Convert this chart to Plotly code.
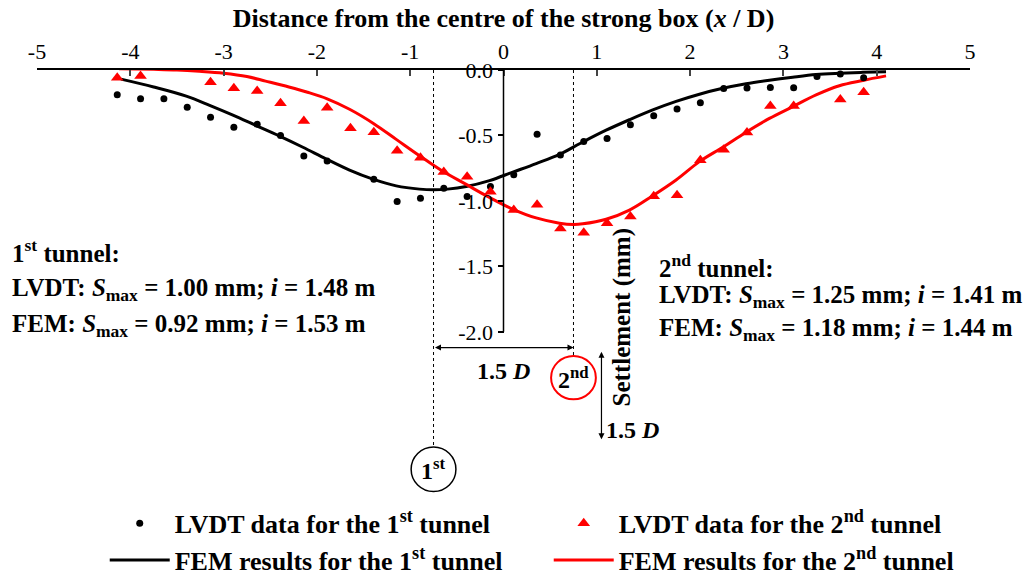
import plotly.graph_objects as go

# ---------------- data ----------------
lvdt1_x = [-4.14, -3.89, -3.64, -3.39, -3.14, -2.89, -2.64, -2.39, -2.14, -1.89,
           -1.39, -1.14, -0.89, -0.64, -0.39, -0.14, 0.11, 0.36, 0.61, 0.86,
           1.11, 1.36, 1.61, 1.86, 2.11, 2.36, 2.61, 2.86, 3.11, 3.36, 3.61, 3.86]
lvdt1_y = [-0.19, -0.22, -0.22, -0.285, -0.36, -0.437, -0.415, -0.50, -0.656, -0.695,
           -0.834, -1.005, -0.98, -0.903, -0.967, -0.89, -0.80, -0.49, -0.649, -0.547,
           -0.523, -0.418, -0.35, -0.298, -0.251, -0.141, -0.138, -0.133, -0.135, -0.05, -0.03, -0.06]

lvdt2_x = [-4.14, -3.89, -3.14, -2.89, -2.64, -2.39, -2.14, -1.89, -1.64, -1.39,
           -1.14, -0.89, -0.64, -0.39, -0.14, 0.11, 0.36, 0.61, 0.86, 1.11,
           1.36, 1.61, 1.86, 2.11, 2.36, 2.61, 2.86, 3.11, 3.61, 3.86]
lvdt2_y = [-0.059, -0.046, -0.094, -0.14, -0.16, -0.254, -0.39, -0.288, -0.445, -0.476,
           -0.616, -0.67, -0.78, -0.815, -0.93, -1.07, -1.03, -1.21, -1.244, -1.17,
           -1.12, -0.965, -0.957, -0.69, -0.61, -0.478, -0.275, -0.275, -0.225, -0.17]

fem1_x = [-4.1, -3.75, -3.4, -3.15, -2.9, -2.65, -2.4, -2.15, -1.9, -1.65, -1.4,
          -1.15, -0.9, -0.75, -0.6, -0.4, -0.15, 0.1, 0.35, 0.6, 0.85, 1.1, 1.35,
          1.6, 1.85, 2.1, 2.35, 2.6, 2.85, 3.1, 3.35, 3.6, 3.85, 4.1]
fem1_y = [-0.07, -0.13, -0.20, -0.27, -0.345, -0.425, -0.505, -0.59, -0.68, -0.765, -0.834,
          -0.885, -0.91, -0.915, -0.91, -0.89, -0.845, -0.78, -0.715, -0.645, -0.55, -0.46, -0.38,
          -0.305, -0.24, -0.185, -0.14, -0.105, -0.078, -0.055, -0.035, -0.025, -0.018, -0.013]

fem2_x = [-4.12, -3.75, -3.5, -3.26, -3.0, -2.75, -2.55, -2.3, -2.1, -1.89, -1.65,
          -1.39, -1.15, -0.89, -0.66, -0.41, -0.16, 0.09, 0.35, 0.6, 0.75, 0.85,
          1.1, 1.35, 1.6, 1.85, 2.1, 2.35, 2.6, 2.85, 3.1, 3.35, 3.6, 3.85, 4.1]
fem2_y = [0.01, 0.005, 0.0, -0.01, -0.025, -0.05, -0.085, -0.13, -0.17, -0.22, -0.30,
          -0.41, -0.53, -0.66, -0.77, -0.87, -0.97, -1.06, -1.13, -1.17, -1.18, -1.175,
          -1.14, -1.07, -0.96, -0.84, -0.70, -0.59, -0.475, -0.37, -0.28, -0.19, -0.12, -0.08, -0.045]

x_ticks = [-5, -4, -3, -2, -1, 0, 1, 2, 3, 4, 5]
x_ticktext = ["-5", "-4", "-3", "-2", "-1", "0", "1", "2", "3", "4", "5"]
y_ticks = [0.0, -0.5, -1.0, -1.5, -2.0]
y_ticktext = ["0.0", "-0.5", "-1.0", "-1.5", "-2.0"]

names = ["LVDT data for the 1<sup>st</sup> tunnel",
         "LVDT data for the 2<sup>nd</sup> tunnel",
         "FEM results for the 1<sup>st</sup> tunnel",
         "FEM results for the 2<sup>nd</sup> tunnel"]

FONT = "Liberation Serif, Times New Roman, serif"
RED = "#ff0000"

fig = go.Figure()
fig.add_trace(go.Scatter(x=fem1_x, y=fem1_y, mode="lines", name=names[2], legendrank=3,
                         line=dict(color="black", width=3, shape="spline"), cliponaxis=False))
fig.add_trace(go.Scatter(x=fem2_x, y=fem2_y, mode="lines", name=names[3], legendrank=4,
                         line=dict(color=RED, width=3, shape="spline"), cliponaxis=False))
fig.add_trace(go.Scatter(x=lvdt1_x, y=lvdt1_y, mode="markers", name=names[0], legendrank=1,
                         marker=dict(symbol="circle", size=7, color="black"), cliponaxis=False))
fig.add_trace(go.Scatter(x=lvdt2_x, y=lvdt2_y, mode="markers", name=names[1], legendrank=2,
                         marker=dict(symbol="triangle-up", size=11, color=RED), cliponaxis=False))

shapes = [
    dict(type="line", xref="x", yref="y", x0=0, x1=0, y0=0, y1=-2.0,
         line=dict(color="black", width=1.5)),
    dict(type="line", xref="x", yref="y", x0=-0.75, x1=-0.75, y0=0, y1=-2.88,
         line=dict(color="black", width=1, dash="dot")),
    dict(type="line", xref="x", yref="y", x0=0.75, x1=0.75, y0=0, y1=-2.18,
         line=dict(color="black", width=1, dash="dot")),
    dict(type="circle", xref="x", yref="y", x0=-0.75 - 0.24, x1=-0.75 + 0.24,
         y0=-3.05 - 0.17, y1=-3.05 + 0.17, line=dict(color="black", width=1.5)),
    dict(type="circle", xref="x", yref="y", x0=0.75 - 0.24, x1=0.75 + 0.24,
         y0=-2.35 - 0.165, y1=-2.35 + 0.165, line=dict(color=RED, width=2)),
]

tf = dict(family=FONT, size=24, color="black")
pf = dict(family=FONT, size=25, color="black")
lx = -0.029  # paper x of the left text block
rx = 1.64    # data x of the right text block
annotations = [
    # dimension arrows
    dict(x=0.75, y=-2.12, ax=-0.75, ay=-2.12, xref="x", yref="y", axref="x", ayref="y",
         text="", showarrow=True, arrowhead=2, arrowside="end+start", arrowsize=1,
         arrowwidth=1.2, arrowcolor="black"),
    dict(x=1.05, y=-2.82, ax=1.05, ay=-2.14, xref="x", yref="y", axref="x", ayref="y",
         text="", showarrow=True, arrowhead=2, arrowside="end+start", arrowsize=1,
         arrowwidth=1.2, arrowcolor="black"),
    dict(x=0.0, y=-2.3, xref="x", yref="y", text="<b>1.5 <i>D</i></b>", showarrow=False, font=tf),
    dict(x=1.08, y=-2.75, xref="x", yref="y", xanchor="left", text="<b>1.5 <i>D</i></b>",
         showarrow=False, font=tf),
    dict(x=1.27, y=-1.89, xref="x", yref="y", text="<b>Settlement (mm)</b>", textangle=-90,
         showarrow=False, font=pf),
    dict(x=-0.75, y=-3.05, xref="x", yref="y", text="<b>1<sup>st</sup></b>", showarrow=False, font=tf),
    dict(x=0.75, y=-2.35, xref="x", yref="y", text="<b>2<sup>nd</sup></b>", showarrow=False, font=tf),
    # parameter texts
    dict(x=lx, y=-1.385, xref="paper", yref="y", xanchor="left", showarrow=False, font=pf,
         text="<b>1<sup>st</sup> tunnel:</b>"),
    dict(x=lx, y=-1.68, xref="paper", yref="y", xanchor="left", showarrow=False, font=pf,
         text="<b>LVDT: <i>S</i><sub>max</sub> = 1.00 mm; <i>i</i> = 1.48 m</b>"),
    dict(x=lx, y=-1.95, xref="paper", yref="y", xanchor="left", showarrow=False, font=pf,
         text="<b>FEM: <i>S</i><sub>max</sub> = 0.92 mm; <i>i</i> = 1.53 m</b>"),
    dict(x=rx, y=-1.50, xref="x", yref="y", xanchor="left", showarrow=False, font=pf,
         text="<b>2<sup>nd</sup> tunnel:</b>"),
    dict(x=rx, y=-1.73, xref="x", yref="y", xanchor="left", showarrow=False, font=pf,
         text="<b>LVDT: <i>S</i><sub>max</sub> = 1.25 mm; <i>i</i> = 1.41 m</b>"),
    dict(x=rx, y=-1.985, xref="x", yref="y", xanchor="left", showarrow=False, font=pf,
         text="<b>FEM: <i>S</i><sub>max</sub> = 1.18 mm; <i>i</i> = 1.44 m</b>"),
]

fig.update_layout(
    width=1035, height=577,
    margin=dict(l=37, r=65, t=70, b=75, autoexpand=False),
    paper_bgcolor="white", plot_bgcolor="white",
    font=dict(family=FONT, size=20, color="black"),
    shapes=shapes, annotations=annotations,
    showlegend=True,
    legend=dict(orientation="h", x=0.0726, xanchor="left", y=0.005, yanchor="top",
                entrywidth=369, entrywidthmode="pixels",
                font=dict(family=FONT, size=26, color="black", weight="bold"),
                bgcolor="rgba(0,0,0,0)", itemwidth=60),
    xaxis=dict(range=[-5, 5], side="top", tickvals=x_ticks, ticktext=x_ticktext,
               ticks="inside", ticklen=6, tickwidth=1.5, ticklabelstandoff=0,
               showline=True, linecolor="black", linewidth=1.5, automargin=False,
               showgrid=False, zeroline=False, tickfont=dict(family=FONT, size=22),
               title=dict(text="<b>Distance from the centre of the strong box (<i>x</i> / D)</b>",
                          font=dict(family=FONT, size=26), standoff=4)),
    yaxis=dict(range=[-3.3, 0], anchor="free", position=0.5, tickvals=y_ticks,
               ticktext=y_ticktext, ticks="outside", ticklen=6, tickwidth=1.5,
               tickcolor="black", showline=False, showgrid=False, zeroline=False,
               automargin=False, tickfont=dict(family=FONT, size=22)),
)

fig.write_html("out.html", config={"displayModeBar": False},
               post_script="document.body.style.margin='0';document.body.style.overflow='hidden';")
